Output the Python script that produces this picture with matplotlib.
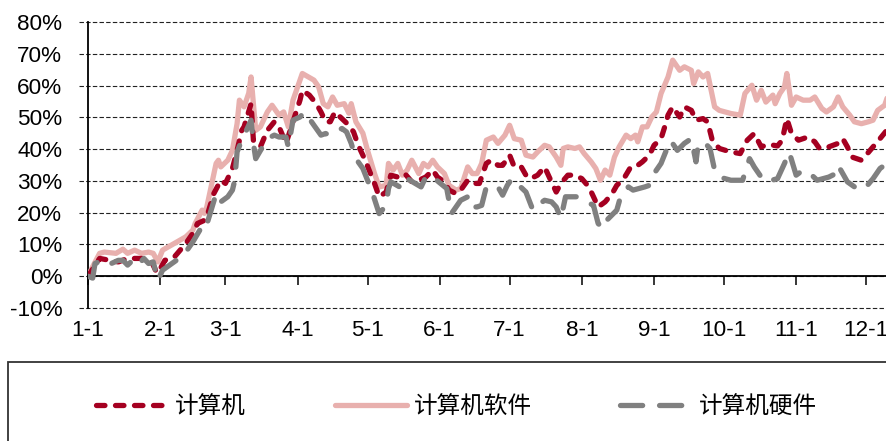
import matplotlib
matplotlib.use("Agg")
import matplotlib.pyplot as plt
from matplotlib.patches import Rectangle
from matplotlib.font_manager import FontProperties
import matplotlib.transforms as mtransforms

# Month starts (day of year) and their labels
month_days = [0, 31, 59, 90, 120, 151, 181, 212, 243, 273, 304, 334]
month_labels = ["1-1", "2-1", "3-1", "4-1", "5-1", "6-1", "7-1", "8-1",
                "9-1", "10-1", "11-1", "12-1"]

# 计算机 (computer) cumulative return, %
comp_days = [0, 5, 13, 17, 23, 27, 29, 30, 33, 37, 42, 45, 47, 50, 51, 54, 57, 59,
             62, 64, 66, 67, 70, 71, 74, 77, 80, 82, 85, 88, 91, 92, 95, 98, 100,
             102, 104, 106, 109, 112, 114, 116, 119, 121, 123, 125, 128, 130, 133,
             136, 139, 142, 145, 148, 150, 153, 155, 158, 160, 163, 165, 168, 171,
             173, 176, 178, 181, 183, 186, 188, 190, 193, 196, 198, 201, 203, 206,
             209, 212, 215, 217, 219, 222, 225, 227, 230, 233, 236, 238, 241, 243,
             246, 248, 249, 251, 254, 256, 259, 261, 264, 266, 268, 271, 276, 280,
             283, 286, 289, 292, 296, 298, 300, 302, 305, 309, 312, 314, 318, 322,
             324, 326, 328, 332, 334, 337, 340, 343]
comp_vals = [0, 5.6, 4.5, 5.6, 5.6, 5.0, 1.9, 1.0, 5.0, 6.0, 10.3, 13.5, 16.6, 17.6,
             18.7, 26.0, 30.2, 29.2, 33.9, 39.6, 45.9, 47.0, 54.3, 42.8, 40.7, 45.9,
             48.6, 47.0, 41.8, 48.6, 55.4, 58.5, 57.0, 54.3, 51.7, 48.6, 48.6, 51.7,
             49.6, 47.5, 45.4, 41.2, 36.5, 32.8, 29.2, 25.0, 26.5, 31.8, 31.2, 32.3,
             29.7, 30.2, 31.2, 33.4, 31.2, 29.7, 27.1, 26.0, 27.1, 30.2, 29.2, 29.2,
             35.5, 36.5, 34.9, 34.9, 38.1, 34.4, 34.4, 31.8, 30.7, 31.8, 34.4, 31.2,
             26.5, 29.2, 31.8, 31.8, 30.7, 28.1, 25.0, 21.8, 23.4, 26.0, 28.6, 30.7,
             34.4, 34.9, 36.0, 38.1, 41.2, 43.3, 48.0, 50.7, 53.3, 50.1, 53.3, 52.2,
             49.1, 49.6, 48.6, 42.8, 40.2, 39.1, 38.6, 42.8, 44.9, 40.7, 41.5, 41.0,
             42.8, 49.6, 44.9, 42.8, 43.8, 42.3, 40.2, 40.7, 41.8, 43.3, 40.7, 37.5,
             36.5, 38.1, 40.7, 43.3, 46.0]

# 计算机软件 (software) cumulative return, %
soft_days = [0, 2, 5, 7, 12, 15, 17, 20, 23, 26, 28, 30, 32, 42, 45, 46, 49, 50, 51,
             55, 56, 57, 60, 62, 64, 65, 67, 69, 70, 72, 74, 77, 79, 82, 84, 86, 88,
             92, 97, 99, 101, 103, 105, 107, 110, 112, 113, 115, 118, 120, 123, 125,
             128, 129, 131, 133, 135, 137, 139, 142, 144, 146, 148, 150, 153, 155,
             158, 160, 163, 165, 167, 169, 171, 174, 176, 179, 181, 183, 186, 188,
             191, 193, 196, 198, 201, 203, 204, 206, 209, 211, 213, 216, 218, 220,
             222, 224, 226, 228, 231, 233, 235, 236, 238, 240, 242, 244, 246, 249,
             251, 254, 256, 259, 260, 262, 264, 266, 269, 271, 276, 280, 282, 285,
             287, 289, 291, 294, 295, 297, 299, 300, 302, 304, 307, 310, 312, 315,
             317, 320, 322, 324, 327, 329, 332, 335, 337, 339, 342, 343]
soft_vals = [0, 3.0, 7.2, 7.6, 7.2, 8.5, 7.2, 8.2, 7.2, 7.6, 7.2, 4.5, 8.2, 12.4,
             14.5, 16.6, 20.8, 19.8, 21.8, 35.5, 36.5, 34.4, 36.5, 39.6, 48.0, 55.4,
             53.3, 57.6, 62.7, 45.9, 47.0, 51.7, 53.8, 50.7, 51.7, 47.0, 55.4, 63.8,
             61.7, 59.6, 54.3, 53.3, 56.4, 53.8, 54.3, 51.3, 54.3, 48.6, 45.0, 39.6,
             32.3, 28.1, 28.6, 35.5, 33.4, 35.5, 31.8, 33.4, 36.5, 32.3, 35.5, 34.4,
             36.5, 34.4, 32.3, 28.6, 27.1, 27.6, 34.4, 32.3, 32.3, 35.5, 42.8, 43.8,
             41.8, 44.4, 47.5, 43.3, 42.8, 38.1, 37.5, 39.1, 41.2, 40.7, 37.5, 34.9,
             40.2, 40.7, 40.2, 40.7, 38.6, 36.0, 33.9, 30.2, 33.4, 31.8, 37.5, 40.7,
             44.4, 43.3, 44.4, 42.3, 47.0, 47.0, 50.1, 51.7, 57.5, 62.7, 68.0, 64.8,
             65.9, 64.8, 60.6, 64.3, 62.7, 63.8, 53.3, 52.2, 51.2, 50.7, 57.5, 60.1,
             55.4, 58.5, 54.8, 57.0, 54.3, 57.5, 59.6, 63.8, 53.8, 56.4, 55.4, 55.4,
             56.4, 52.8, 51.7, 53.3, 56.4, 53.3, 50.7, 48.6, 48.0, 48.6, 49.1, 52.2,
             53.8, 56.0]

# 计算机硬件 (hardware) cumulative return, %
hard_days = [0, 2, 3, 6, 9, 10, 13, 15, 17, 20, 22, 24, 26, 28, 30, 32, 36, 41, 45,
             48, 50, 52, 55, 57, 60, 62, 63, 64, 66, 68, 70, 71, 72, 77, 80, 82, 85,
             86, 88, 91, 93, 97, 100, 102, 104, 109, 111, 113, 115, 118, 120, 122,
             125, 128, 129, 130, 135, 137, 143, 145, 147, 154, 156, 158, 160, 163,
             164, 167, 169, 171, 176, 178, 180, 182, 188, 191, 193, 196, 199, 201,
             203, 205, 210, 217, 219, 221, 222, 227, 229, 232, 234, 239, 241, 243,
             246, 250, 253, 256, 259, 261, 262, 265, 267, 269, 271, 276, 281, 284,
             286, 289, 291, 296, 299, 301, 304, 307, 310, 313, 318, 321, 322, 326,
             331, 334, 337, 340, 343]
hard_vals = [0, -0.6, 4.0, 5.0, 5.0, 4.0, 5.0, 5.0, 3.5, 5.6, 4.0, 5.6, 4.0, 4.5,
             -1.3, 1.9, 4.0, 6.6, 10.8, 14.5, 13.9, 18.7, 26.0, 23.4, 25.0, 27.1,
             30.2, 39.1, 42.8, 45.9, 49.1, 41.8, 37.0, 43.3, 44.4, 43.8, 43.8, 40.7,
             49.1, 50.1, 51.7, 47.5, 44.4, 44.9, 44.4, 46.5, 45.4, 41.8, 37.0, 33.9,
             30.2, 26.5, 19.7, 22.3, 27.6, 29.7, 27.6, 30.7, 28.1, 31.2, 31.8, 27.6,
             19.7, 21.8, 23.9, 25.0, 21.8, 21.8, 22.3, 28.1, 28.1, 25.5, 28.6, 30.7,
             26.5, 20.8, 22.3, 23.9, 23.4, 21.8, 18.2, 25.0, 25.0, 22.3, 16.6, 15.0,
             17.1, 20.8, 26.0, 28.1, 27.1, 28.1, 28.6, 32.3, 35.5, 42.8, 39.6, 41.8,
             43.3, 36.0, 41.8, 41.8, 40.2, 33.4, 31.2, 30.2, 30.2, 37.0, 34.4, 31.2,
             29.7, 30.7, 35.5, 39.1, 31.8, 33.4, 32.3, 30.2, 31.2, 32.3, 34.9, 29.7,
             27.1, 28.1, 30.7, 33.9, 35.5]

y_ticks = list(range(-10, 81, 10))
series_names = ["计算机", "计算机软件", "计算机硬件"]

RED = "#A50021"
PINK = "#E8B0AE"
GRAY = "#808080"

num_font = ["Liberation Sans Narrow", "Liberation Sans", "DejaVu Sans"]
cjk_font = FontProperties(family=["Noto Sans CJK SC", "DejaVu Sans"], size=17)

fig = plt.figure(figsize=(8.87, 4.41), dpi=100)
W, H = 887, 441
ax = fig.add_axes([88 / W, 1 - 308 / H, 1 - 88 / W, (308 - 22) / H])
ax.set_xlim(0, 343)
ax.set_ylim(-10, 80)

# dashed horizontal grid, extended a little left of the value axis
trans = mtransforms.blended_transform_factory(ax.transAxes, ax.transData)
for v in y_ticks:
    ax.plot([-9 / 799, 1], [v, v], transform=trans, clip_on=False,
            color="#222222", lw=0.8, ls=(0, (4, 2)), zorder=1)

lw = 3.8
pink_line, = ax.plot(soft_days, soft_vals, color=PINK, lw=lw,
                     solid_capstyle="round", solid_joinstyle="round", zorder=3)
red_line, = ax.plot(comp_days, comp_vals, color=RED, lw=lw, zorder=4,
                    dash_capstyle="round", dash_joinstyle="round")
red_line.set_dashes((1.6, 2.0))
gray_line, = ax.plot(hard_days, hard_vals, color=GRAY, lw=lw, zorder=5,
                     dash_capstyle="round", dash_joinstyle="round")
gray_line.set_dashes((4.2, 3.2))

# axes: value axis on the left, category axis crossing at 0%
for s in ("top", "right"):
    ax.spines[s].set_visible(False)
ax.spines["left"].set_linewidth(1.3)
ax.spines["bottom"].set_position(("data", 0))
ax.spines["bottom"].set_linewidth(1.3)
ax.spines["bottom"].set_zorder(2)

ax.set_yticks(y_ticks)
ax.set_yticklabels([f"{v}%" for v in y_ticks], fontfamily=num_font, fontsize=16.2)
ax.tick_params(axis="y", length=0, pad=18.5)

ax.set_xticks(month_days)
ax.set_xticklabels([])
ax.tick_params(axis="x", direction="out", length=6.5, width=1.1, color="black")

sec = ax.secondary_xaxis(0)
sec.set_xticks(month_days)
sec.set_xticklabels(month_labels, fontfamily=num_font, fontsize=16.2)
sec.tick_params(axis="x", length=0, pad=9)
sec.spines["bottom"].set_visible(False)

# legend panel
fig.patches.append(Rectangle((8.5 / W, -0.1), 1.2, 0.1 + (1 - 362 / H),
                             transform=fig.transFigure, fill=False,
                             ec="#333333", lw=1.3))
fig.legend([red_line, pink_line, gray_line], series_names,
           loc="center left", bbox_to_anchor=(96 / W, 1 - 407 / H),
           ncol=3, frameon=False, prop=cjk_font, handlelength=3.05,
           handletextpad=0.3, columnspacing=3.75, borderpad=0, borderaxespad=0)

fig.savefig("out.png", dpi=100)
